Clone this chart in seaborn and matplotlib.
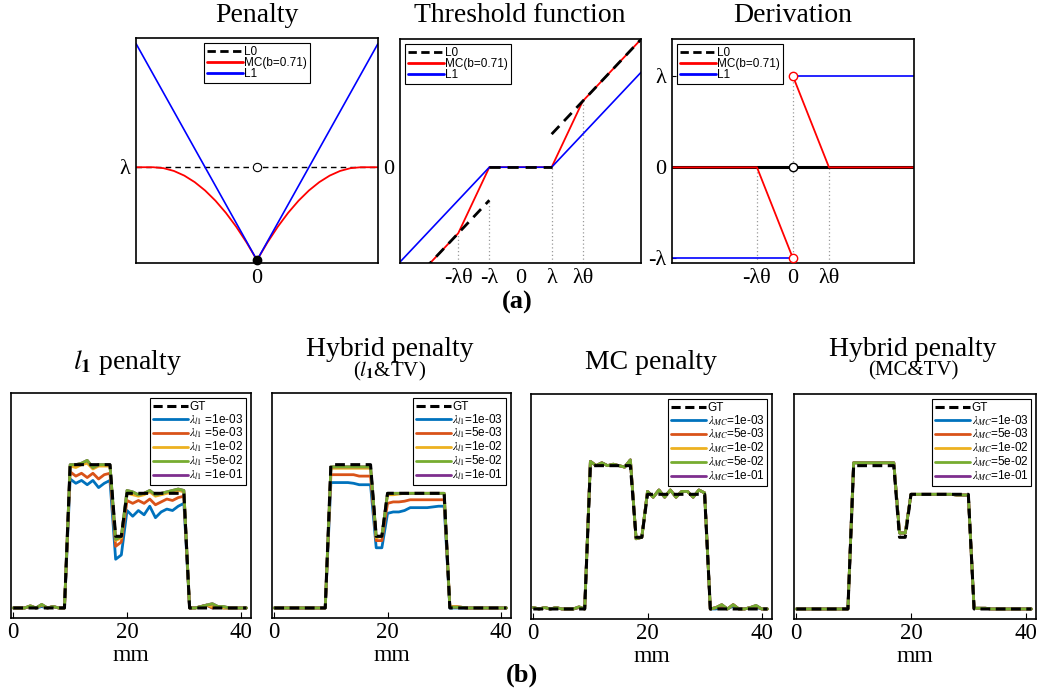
import numpy as np
import pandas as pd
import matplotlib
matplotlib.use("Agg")
import matplotlib.pyplot as plt
from matplotlib.lines import Line2D
import seaborn as sns

sns.set_theme(style="white")
plt.rcParams["font.family"] = ["Liberation Serif", "DejaVu Serif"]
plt.rcParams["mathtext.fontset"] = "stix"
plt.rcParams["text.color"] = "black"
plt.rcParams["axes.labelcolor"] = "black"
plt.rcParams["xtick.color"] = "black"
plt.rcParams["ytick.color"] = "black"

# ---------------- (a) data ----------------
# Penalty panel (x in units where L1 = |x|, lambda = 1)
pen_x = [-2.33, -2.0, -1.8, -1.6, -1.4, -1.2, -1.0, -0.8, -0.6, -0.4, -0.2, 0.0,
         0.2, 0.4, 0.6, 0.8, 1.0, 1.2, 1.4, 1.6, 1.8, 2.0, 2.33]
pen_mc = [1.0, 1.0, 0.99, 0.96, 0.91, 0.84, 0.75, 0.64, 0.51, 0.36, 0.19, 0.0,
          0.19, 0.36, 0.51, 0.64, 0.75, 0.84, 0.91, 0.96, 0.99, 1.0, 1.0]
pen_l1_x = [-2.33, 0.0, 2.33]
pen_l1 = [2.33, 0.0, 2.33]
pen_l0_x = [-2.33, 2.33]
pen_l0 = [1.0, 1.0]

# Threshold function panel (x, y in lambda units, theta = 2)
thr_l0_segs = [([-3.9, -1.0], [-3.9, -1.0]), ([-1.0, 1.0], [0.0, 0.0]), ([1.0, 3.9], [1.0, 3.9])]
thr_mc_x = [-3.9, -2.0, -1.0, 1.0, 2.0, 3.9]
thr_mc = [-3.9, -2.0, 0.0, 0.0, 2.0, 3.9]
thr_l1_x = [-3.9, -1.0, 1.0, 3.9]
thr_l1 = [-2.9, 0.0, 0.0, 2.9]
thr_ticks = [-2.0, -1.0, 0.0, 1.0, 2.0]
thr_ticklabels = ["-λθ", "-λ", "0", "λ", "λθ"]

# Derivation panel (x in lambda*theta units, y in lambda units)
der_l0_x = [-3.4, 3.4]
der_l0 = [0.0, 0.0]
der_mc_segs = [([-3.4, -1.0, 0.0], [0.0, 0.0, -1.0]), ([0.0, 1.0, 3.4], [1.0, 0.0, 0.0])]
der_l1_segs = [([-3.4, 0.0], [-1.0, -1.0]), ([0.0, 3.4], [1.0, 1.0])]
der_xticks = [-1.0, 0.0, 1.0]
der_xticklabels = ["-λθ", "0", "λθ"]
der_yticks = [-1.0, 0.0, 1.0]
der_yticklabels = ["-λ", "0", "λ"]

# ---------------- (b) data ----------------
mm = list(range(42))
gt = ([0.0] * 10 + [1.0] * 8 + [0.5, 0.5] + [0.8] * 11 + [0.0] * 11)

lam_labels = ["1e-03", "5e-03", "1e-02", "5e-02", "1e-01"]

# l1 penalty
l1_blue = ([0, 0, 0, 0.01, 0, 0.01, 0, 0.01, 0, 0] +
           [0.90, 0.87, 0.89, 0.86, 0.89, 0.84, 0.87, 0.89] + [0.34, 0.37] +
           [0.68, 0.64, 0.68, 0.65, 0.71, 0.63, 0.67, 0.69, 0.68, 0.71, 0.73] +
           [0, 0, 0.01, 0.02, 0, 0.01, 0, 0, 0, 0, 0])
l1_orange = ([0, 0, 0, 0.01, 0, 0.02, 0, 0.01, 0, 0] +
             [0.95, 0.92, 0.94, 0.91, 0.94, 0.90, 0.93, 0.94] + [0.43, 0.46] +
             [0.75, 0.73, 0.75, 0.73, 0.76, 0.72, 0.74, 0.76, 0.75, 0.77, 0.78] +
             [0, 0, 0.01, 0.02, 0, 0.01, 0, 0, 0, 0, 0])
l1_yellow = ([0, 0, 0, 0.015, 0, 0.02, 0, 0.01, 0, 0] +
             [0.99, 0.98, 1.0, 1.01, 0.97, 0.99, 0.99, 0.99] + [0.47, 0.49] +
             [0.80, 0.79, 0.78, 0.79, 0.81, 0.78, 0.79, 0.80, 0.81, 0.82, 0.81] +
             [0, 0, 0.01, 0.02, 0.01, 0.01, 0, 0, 0, 0, 0])
l1_green = ([0, 0, 0, 0.015, 0, 0.025, 0, 0.01, 0, 0] +
            [1.0, 1.0, 1.01, 1.03, 0.98, 1.0, 1.0, 1.0] + [0.48, 0.50] +
            [0.82, 0.81, 0.79, 0.80, 0.82, 0.79, 0.80, 0.81, 0.82, 0.83, 0.82] +
            [0, 0, 0.01, 0.02, 0.03, 0.01, 0.01, 0, 0, 0, 0])
l1_purple = ([0, 0, 0, 0.015, 0, 0.025, 0, 0.01, 0, 0] +
             [1.0, 1.0, 1.01, 1.03, 0.98, 1.0, 1.0, 1.0] + [0.48, 0.50] +
             [0.82, 0.81, 0.79, 0.80, 0.82, 0.79, 0.80, 0.81, 0.82, 0.83, 0.82] +
             [0, 0, 0.01, 0.02, 0.03, 0.01, 0.01, 0, 0, 0, 0])

# hybrid l1 & TV
tv_blue = ([0.0] * 10 + [0.875, 0.875, 0.875, 0.875, 0.87, 0.86, 0.86, 0.86] + [0.42, 0.42] +
           [0.66, 0.67, 0.67, 0.68, 0.70, 0.70, 0.70, 0.70, 0.705, 0.71, 0.71] + [0.0] * 11)
tv_orange = ([0.0] * 10 + [0.93, 0.93, 0.93, 0.93, 0.93, 0.92, 0.92, 0.92] + [0.47, 0.47] +
             [0.73, 0.74, 0.74, 0.745, 0.755, 0.755, 0.755, 0.755, 0.755, 0.755, 0.755] +
             [0.01, 0.01, 0.005] + [0.0] * 8)
tv_yellow = ([0.0] * 10 + [0.975] * 8 + [0.49, 0.50] +
             [0.79, 0.79, 0.795, 0.80, 0.80, 0.80, 0.80, 0.80, 0.80, 0.80, 0.80] +
             [0.01, 0.01, 0.005] + [0.0] * 8)
tv_green = ([0.0] * 10 + [0.985] * 8 + [0.50, 0.50] + [0.80] * 11 + [0.005] * 3 + [0.0] * 8)
tv_purple = ([0.0] * 10 + [0.985] * 8 + [0.50, 0.50] + [0.80] * 11 + [0.005] * 3 + [0.0] * 8)

# MC penalty
mc_blue = ([0.01, 0, 0.01, 0, 0.01, 0, 0, 0, 0.01, 0] +
           [1.03, 1.00, 1.02, 1.00, 1.01, 1.00, 0.99, 1.04] + [0.49, 0.50] +
           [0.82, 0.78, 0.83, 0.78, 0.83, 0.78, 0.82, 0.82, 0.78, 0.83, 0.81] +
           [0, 0, 0.02, 0, 0.02, 0, 0, 0.01, 0.01, 0, 0])
mc_orange = ([0.01, 0, 0.01, 0, 0.01, 0, 0, 0, 0.01, 0] +
             [1.03, 1.00, 1.02, 1.00, 1.01, 1.00, 0.99, 1.04] + [0.49, 0.50] +
             [0.82, 0.78, 0.83, 0.78, 0.83, 0.78, 0.82, 0.82, 0.78, 0.83, 0.81] +
             [0, 0.01, 0.02, 0, 0.03, 0, 0, 0.01, 0.02, 0, 0])
mc_yellow = ([0.01, 0, 0.01, 0, 0.01, 0, 0, 0, 0.015, 0] +
             [1.03, 1.00, 1.02, 1.00, 1.01, 1.00, 0.99, 1.04] + [0.49, 0.50] +
             [0.82, 0.78, 0.83, 0.78, 0.83, 0.78, 0.82, 0.82, 0.78, 0.83, 0.81] +
             [0, 0.01, 0.03, 0, 0.03, 0, 0, 0.01, 0.02, 0, 0])
mc_green = ([0.01, 0, 0.01, 0, 0.01, 0, 0, 0, 0.015, 0] +
            [1.03, 1.00, 1.02, 1.00, 1.01, 1.00, 0.99, 1.04] + [0.49, 0.50] +
            [0.82, 0.78, 0.83, 0.78, 0.83, 0.78, 0.82, 0.82, 0.78, 0.83, 0.81] +
            [0, 0.01, 0.03, 0, 0.03, 0, 0, 0.01, 0.025, 0, 0])
mc_purple = ([0.01, 0, 0.01, 0, 0.01, 0, 0, 0, 0.015, 0] +
             [1.03, 1.00, 1.02, 1.00, 1.01, 1.00, 0.99, 1.04] + [0.49, 0.50] +
             [0.82, 0.78, 0.83, 0.78, 0.83, 0.78, 0.82, 0.82, 0.78, 0.83, 0.81] +
             [0, 0.01, 0.03, 0, 0.03, 0, 0, 0.01, 0.025, 0, 0])

# hybrid MC & TV
mctv_blue = ([0.0] * 10 + [1.02] * 8 + [0.53, 0.53] +
             [0.80, 0.80, 0.80, 0.80, 0.80, 0.80, 0.80, 0.80, 0.795, 0.795, 0.795] + [0.005] * 3 + [0.0] * 8)
mctv_orange = list(mctv_blue)
mctv_yellow = list(mctv_blue)
mctv_green = list(mctv_blue)
mctv_purple = list(mctv_blue)

panels = [
    ("l1", [l1_blue, l1_orange, l1_yellow, l1_green, l1_purple]),
    ("l1", [tv_blue, tv_orange, tv_yellow, tv_green, tv_purple]),
    ("MC", [mc_blue, mc_orange, mc_yellow, mc_green, mc_purple]),
    ("MC", [mctv_blue, mctv_orange, mctv_yellow, mctv_green, mctv_purple]),
]
colors = ["#0072BD", "#D95319", "#EDB120", "#77AC30", "#7E2F8E"]
draw_order = [0, 1, 2, 4, 3]  # green drawn on top of purple

# ---------------- figure ----------------
W, H = 1039, 694
fig = plt.figure(figsize=(W / 100, H / 100), dpi=100)


def rect(x0, y0, x1, y1):
    return [x0 / W, 1 - y1 / H, (x1 - x0) / W, (y1 - y0) / H]


def seg(ax, xs, ys, **kw):
    sns.lineplot(x=xs, y=ys, ax=ax, sort=False, estimator=None, legend=False, **kw)


def style_axes(ax):
    for s in ax.spines.values():
        s.set_visible(True)
        s.set_color("black")
        s.set_linewidth(1.2)
    ax.tick_params(direction="in", length=3, width=0.8, labelsize=16, pad=4,
                   bottom=True, left=True, colors="black")
    ax.grid(False)
    ax.set_xlabel("")
    ax.set_ylabel("")


RED = "#FF0000"
BLUE = "#0000FF"
DOT = "#9a9a9a"

top_legend_handles = [
    Line2D([], [], color="black", lw=2.0, ls=(0, (3, 1.6))),
    Line2D([], [], color=RED, lw=2.0),
    Line2D([], [], color=BLUE, lw=2.0),
]
top_legend_labels = ["L0", "MC(b=0.71)", "L1"]


def top_legend(ax, loc, anchor):
    lg = ax.legend(top_legend_handles, top_legend_labels, loc=loc, bbox_to_anchor=anchor,
                   prop={"family": "Liberation Sans", "size": 8.5}, frameon=True,
                   fancybox=False, edgecolor="black", framealpha=1, handlelength=3.0,
                   handletextpad=0.1, labelspacing=-0.1, borderpad=0.3, borderaxespad=0.4)
    lg.get_frame().set_linewidth(0.8)


# Penalty
ax = fig.add_axes(rect(136, 38, 378, 263))
seg(ax, pen_l0_x, pen_l0, color="black", lw=1.0, dashes=(4, 3))
seg(ax, pen_x, pen_mc, color=RED, lw=1.3)
seg(ax, pen_l1_x, pen_l1, color=BLUE, lw=1.2)
ax.plot([0], [1.0], marker="o", ms=6, mfc="white", mec="black", mew=0.8)
ax.plot([0], [0.0], marker="o", ms=6, mfc="black", mec="black", clip_on=False, zorder=5)
ax.set_xlim(-2.33, 2.33)
ax.set_ylim(-0.03, 2.39)
style_axes(ax)
ax.set_xticks([0.0])
ax.set_xticklabels(["0"])
ax.set_yticks([1.0])
ax.set_yticklabels(["λ"])
ax.tick_params(length=0)
top_legend(ax, "upper center", (0.5, 1.0))
fig.text(257 / W, 1 - 16 / H, "Penalty", ha="center", va="center", fontsize=20)

# Threshold function
ax = fig.add_axes(rect(400, 39, 641, 263))
ylo = -2.9
for xv, yv in [(-2.0, -2.0), (-1.0, -1.0), (1.0, 0.0), (2.0, 2.0)]:
    ax.vlines(xv, ylo, yv, colors=DOT, linestyles=(0, (1, 2)), lw=0.9)
seg(ax, thr_mc_x, thr_mc, color=RED, lw=1.3)
seg(ax, thr_l1_x, thr_l1, color=BLUE, lw=1.2)
for xs, ys in thr_l0_segs:
    seg(ax, xs, ys, color="black", lw=2.0, dashes=(4, 2.5))
ax.set_xlim(-3.87, 3.87)
ax.set_ylim(ylo, 3.88)
style_axes(ax)
ax.set_xticks(thr_ticks)
ax.set_xticklabels(thr_ticklabels)
ax.set_yticks([0.0])
ax.set_yticklabels(["0"])
ax.tick_params(length=0)
top_legend(ax, "upper left", (0.0, 1.0))
fig.text(520 / W, 1 - 16 / H, "Threshold function", ha="center", va="center", fontsize=20)

# Derivation
ax = fig.add_axes(rect(672, 39, 914, 263))
dlo = -1.05
for xv, yv in [(-1.0, 0.0), (0.0, 1.0), (1.0, 0.0)]:
    ax.vlines(xv, dlo, yv, colors=DOT, linestyles=(0, (1, 2)), lw=0.9)
seg(ax, der_l0_x, der_l0, color="black", lw=2.2)
for xs, ys in der_mc_segs:
    seg(ax, xs, ys, color=RED, lw=1.3)
for xs, ys in der_l1_segs:
    seg(ax, xs, ys, color=BLUE, lw=1.2)
ax.plot([0], [1.0], marker="o", ms=6, mfc="white", mec=RED, mew=1.0, zorder=5)
ax.plot([0], [-1.0], marker="o", ms=6, mfc="white", mec=RED, mew=1.0, zorder=5)
ax.plot([0], [0.0], marker="o", ms=6, mfc="white", mec="black", mew=1.0, zorder=5)
ax.set_xlim(-3.36, 3.36)
ax.set_ylim(dlo, 1.41)
style_axes(ax)
ax.set_xticks(der_xticks)
ax.set_xticklabels(der_xticklabels)
ax.set_yticks(der_yticks)
ax.set_yticklabels(der_yticklabels)
ax.tick_params(axis="x", length=0)
top_legend(ax, "upper left", (0.0, 1.0))
fig.text(793 / W, 1 - 16 / H, "Derivation", ha="center", va="center", fontsize=20)

fig.text(517 / W, 1 - 302 / H, "(a)", ha="center", va="center", fontsize=19, fontweight="bold")

# ---------------- bottom row ----------------
boxes = [(11, 393, 251, 618), (272, 393, 511, 618), (531, 394, 772, 619), (794, 394, 1036, 619)]
for (sub, series), box in zip(panels, boxes):
    ax = fig.add_axes(rect(*box))
    for k in draw_order:
        seg(ax, mm, series[k], color=colors[k], lw=2.0)
    seg(ax, mm, gt, color="black", lw=2.2, dashes=(3.2, 1.8))
    ax.set_xlim(-0.4, 41.8)
    ax.set_ylim(-0.07, 1.50)
    style_axes(ax)
    ax.set_xticks([0, 20, 40])
    ax.set_xticklabels(["0", "20", "40"])
    ax.set_yticks([])
    ax.tick_params(axis="x", length=4, labelsize=16.5, pad=3)
    ax.set_xlabel("mm", fontsize=17, labelpad=1)
    handles = [Line2D([], [], color="black", lw=2.2, ls=(0, (3, 1.5)))]
    labels = ["GT"]
    for k in range(5):
        handles.append(Line2D([], [], color=colors[k], lw=2.0))
        if sub == "l1":
            labels.append(r"$\lambda_{l1}$" + (" " if box[0] == 11 else "") + "=" + lam_labels[k])
        else:
            labels.append(r"$\lambda_{MC}$=" + lam_labels[k])
    lg = ax.legend(handles, labels, loc="upper right", bbox_to_anchor=(1.0, 1.0),
                   prop={"family": "Liberation Sans", "size": 8.5}, frameon=True,
                   fancybox=False, edgecolor="black", framealpha=1, handlelength=3.0,
                   handletextpad=0.1, labelspacing=-0.05, borderpad=0.25, borderaxespad=0.4)
    lg.get_frame().set_linewidth(0.8)

fig.text(128 / W, 1 - 362 / H, r"$l_{\mathbf{1}}$ penalty", ha="center", va="center", fontsize=20)
fig.text(390 / W, 1 - 349 / H, "Hybrid penalty", ha="center", va="center", fontsize=20)
fig.text(390 / W, 1 - 371 / H, r"($l_{\mathbf{1}}$&TV)", ha="center", va="center", fontsize=15)
fig.text(651 / W, 1 - 362 / H, "MC penalty", ha="center", va="center", fontsize=20)
fig.text(913 / W, 1 - 349 / H, "Hybrid penalty", ha="center", va="center", fontsize=20)
fig.text(913 / W, 1 - 371 / H, "(MC&TV)", ha="center", va="center", fontsize=15)

fig.text(522 / W, 1 - 675 / H, "(b)", ha="center", va="center", fontsize=19, fontweight="bold")

fig.savefig("out.png", dpi=100, facecolor="white")
